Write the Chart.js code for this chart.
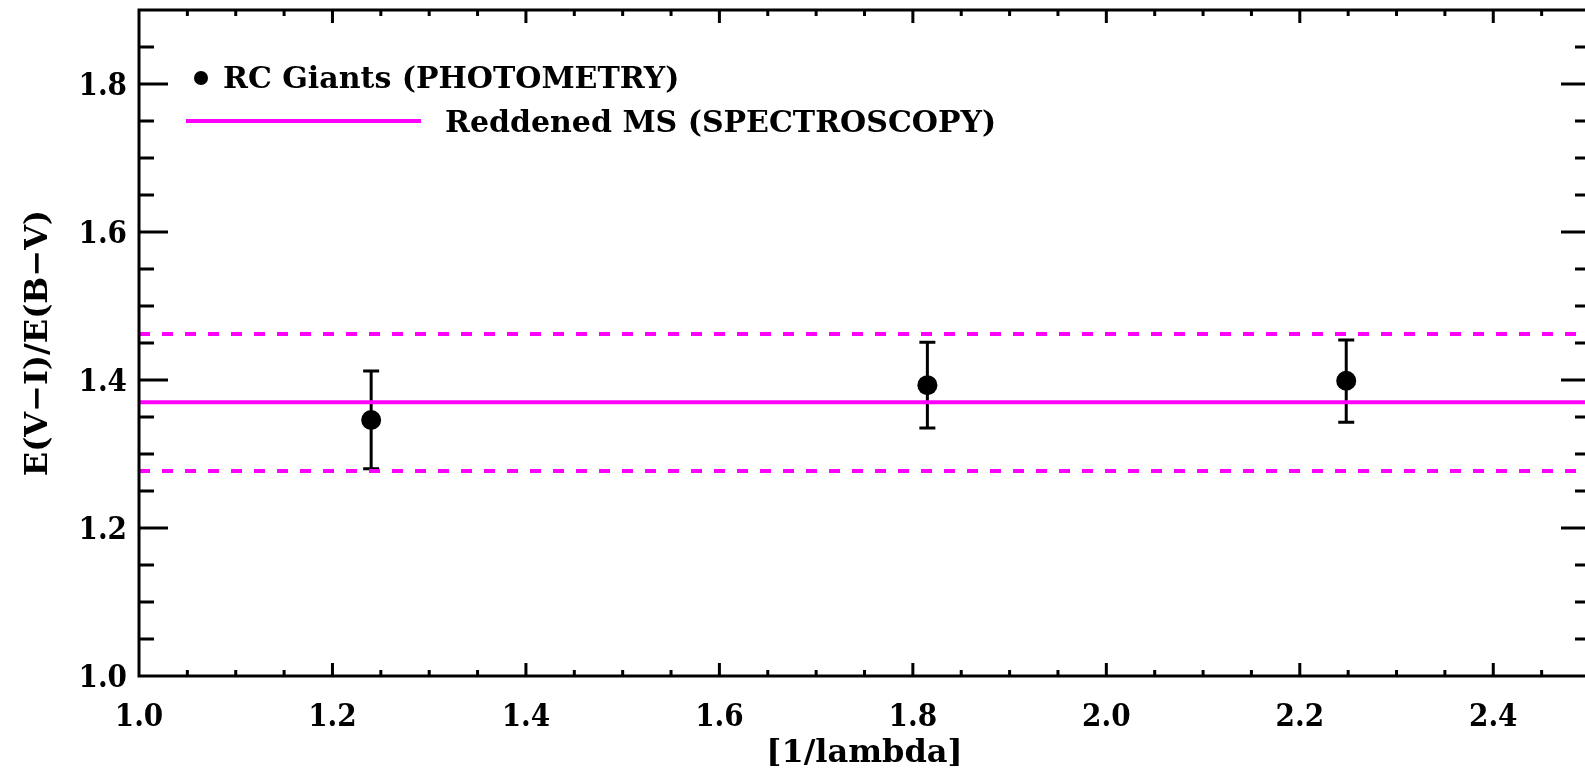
<!DOCTYPE html>
<html>
<head>
<meta charset="utf-8">
<script src="https://cdn.jsdelivr.net/npm/chart.js@4/dist/chart.umd.min.js"></script>
<style>
  html, body { margin: 0; padding: 0; background: #fff; overflow: hidden; }
  #wrap { width: 1600px; height: 778px; }
</style>
</head>
<body>
<div id="wrap"><canvas id="ch"></canvas></div>
<script>
// ── data ─────────────────────────────────────────────────────────────────────
const xRange  = [1.0, 2.5];
const yRange  = [1.0, 1.9];
const xTicks  = [1.0, 1.2, 1.4, 1.6, 1.8, 2.0, 2.2, 2.4];
const yTicks  = [1.0, 1.2, 1.4, 1.6, 1.8];
const minorStep = 0.05;

// red clump giants (photometry)
const rcX     = [1.240, 1.815, 2.248];
const rcY     = [1.346, 1.393, 1.399];
const rcErrLo = [1.280, 1.335, 1.343];
const rcErrHi = [1.412, 1.451, 1.454];

// reddened main sequence (spectroscopy): mean and 1-sigma band
const msMean = 1.370;
const msLo   = 1.277;
const msHi   = 1.462;

const MAGENTA   = '#ff00ff';
const TICK_FONT = "'DejaVu Serif Condensed', 'DejaVu Serif', serif";
const TEXT_FONT = "'DejaVu Serif', serif";

// ── plugins ──────────────────────────────────────────────────────────────────
const errorBars = {
  id: 'errorBars',
  beforeDatasetsDraw(chart) {
    const { ctx, scales: { x, y } } = chart;
    ctx.save();
    ctx.strokeStyle = '#000';
    ctx.lineWidth = 3;
    rcX.forEach((v, i) => {
      const px = x.getPixelForValue(v);
      const lo = y.getPixelForValue(rcErrLo[i]);
      const hi = y.getPixelForValue(rcErrHi[i]);
      ctx.beginPath();
      ctx.moveTo(px, lo); ctx.lineTo(px, hi);
      ctx.moveTo(px - 8, lo); ctx.lineTo(px + 8, lo);
      ctx.moveTo(px - 8, hi); ctx.lineTo(px + 8, hi);
      ctx.stroke();
    });
    ctx.restore();
  }
};

// box frame with inward ticks on all four sides
const frame = {
  id: 'frame',
  afterDraw(chart) {
    const { ctx, chartArea: a, scales: { x, y } } = chart;
    ctx.save();
    ctx.strokeStyle = '#000';
    ctx.lineWidth = 3;
    ctx.lineCap = 'butt';
    ctx.strokeRect(a.left, a.top, a.right - a.left, a.bottom - a.top);

    const isMajor = (v, list) => list.some(t => Math.abs(t - v) < 1e-6);
    ctx.beginPath();
    for (let v = xRange[0] + minorStep; v < xRange[1] - 1e-6; v += minorStep) {
      const px = x.getPixelForValue(v);
      const len = isMajor(v, xTicks) ? 13 : 6;
      ctx.moveTo(px, a.bottom); ctx.lineTo(px, a.bottom - len);
      ctx.moveTo(px, a.top);    ctx.lineTo(px, a.top + len);
    }
    for (let v = yRange[0] + minorStep; v < yRange[1] - 1e-6; v += minorStep) {
      const py = y.getPixelForValue(v);
      const len = isMajor(v, yTicks) ? 29 : 15;
      ctx.moveTo(a.left, py);  ctx.lineTo(a.left + len, py);
      ctx.moveTo(a.right, py); ctx.lineTo(a.right - len, py);
    }
    ctx.stroke();
    ctx.restore();
  }
};

const legendBox = {
  id: 'legendBox',
  afterDraw(chart) {
    const { ctx } = chart;
    ctx.save();
    ctx.font = `bold 30px ${TEXT_FONT}`;
    ctx.fillStyle = '#000';
    ctx.textBaseline = 'alphabetic';
    ctx.beginPath();
    ctx.arc(201, 78, 7, 0, Math.PI * 2);
    ctx.fill();
    ctx.fillText('RC Giants (PHOTOMETRY)', 223, 88);

    ctx.strokeStyle = MAGENTA;
    ctx.lineWidth = 4;
    ctx.beginPath();
    ctx.moveTo(186, 121); ctx.lineTo(421, 121);
    ctx.stroke();
    ctx.fillText('Reddened MS (SPECTROSCOPY)', 445, 132);
    ctx.restore();
  }
};

// ── chart ────────────────────────────────────────────────────────────────────
const hline = (val, dash) => ({
  type: 'line',
  data: [{ x: xRange[0], y: val }, { x: xRange[1], y: val }],
  borderColor: MAGENTA,
  borderWidth: 4,
  borderDash: dash,
  pointRadius: 0,
  order: 0
});

const tickFont  = { family: TICK_FONT, size: 31, weight: 'bold' };
const titleFont = { family: TEXT_FONT, size: 32, weight: 'bold' };

new Chart(document.getElementById('ch'), {
  type: 'scatter',
  data: {
    datasets: [
      hline(msMean, []),
      hline(msHi, [11, 12]),
      hline(msLo, [11, 12]),
      {
        type: 'scatter',
        data: rcX.map((v, i) => ({ x: v, y: rcY[i] })),
        backgroundColor: '#000',
        borderWidth: 0,
        pointRadius: 10,
        order: 1
      }
    ]
  },
  options: {
    responsive: true,
    maintainAspectRatio: false,
    animation: false,
    layout: { padding: { top: 10, right: 6, left: 0, bottom: 0 } },
    plugins: { legend: { display: false }, tooltip: { enabled: false } },
    scales: {
      x: {
        type: 'linear',
        min: xRange[0], max: xRange[1],
        afterBuildTicks: s => { s.ticks = xTicks.map(v => ({ value: v })); },
        afterFit: s => { s.height = 102; },
        grid: { display: false, drawTicks: false },
        border: { display: false },
        ticks: { color: '#000', font: tickFont, padding: 23, maxRotation: 0,
                 callback: v => v.toFixed(1) },
        title: { display: true, text: '[1/lambda]', color: '#000', font: titleFont,
                 padding: { top: 0, bottom: 5 } }
      },
      y: {
        type: 'linear',
        min: yRange[0], max: yRange[1],
        afterBuildTicks: s => { s.ticks = yTicks.map(v => ({ value: v })); },
        // top label sits below the frame, so no extra room is needed above
        afterFit: s => { s.width = 139; s.paddingTop = 0; s.paddingBottom = 0; },
        grid: { display: false, drawTicks: false },
        border: { display: false },
        ticks: { color: '#000', font: tickFont, padding: 12, labelOffset: 3,
                 callback: v => v.toFixed(1) },
        title: { display: true, text: 'E(V−I)/E(B−V)', color: '#000', font: titleFont,
                 padding: { top: 19, bottom: 0 } }
      }
    }
  },
  plugins: [errorBars, frame, legendBox]
});
</script>
</body>
</html>
